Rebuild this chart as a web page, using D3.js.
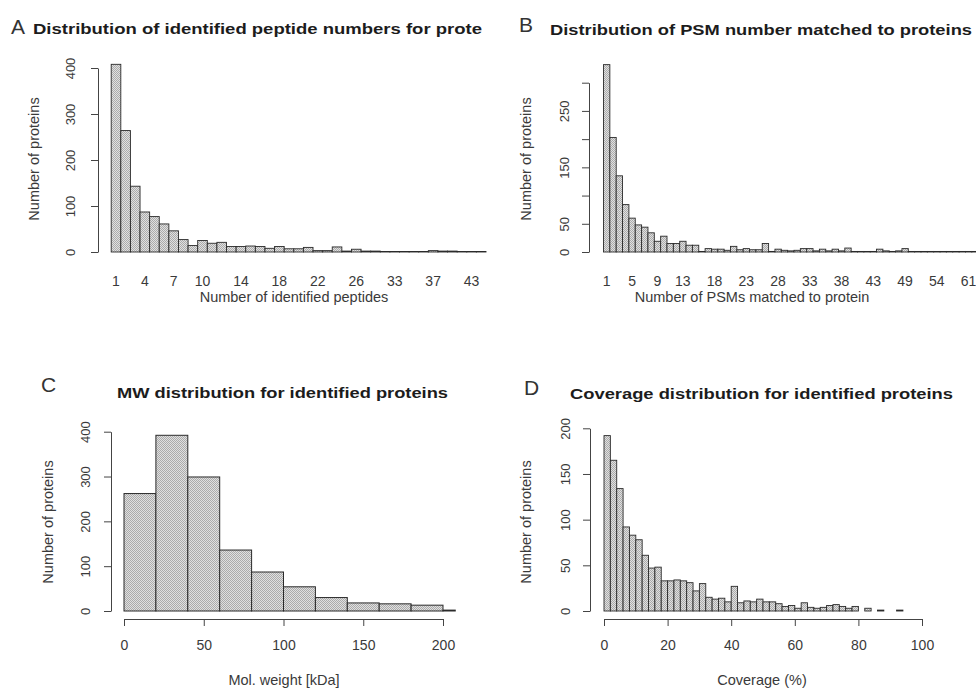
<!DOCTYPE html>
<html>
<head>
<meta charset="utf-8">
<script src="https://cdn.jsdelivr.net/npm/d3@7"></script>
<style>
  html, body { margin: 0; padding: 0; background: #fff; overflow: hidden; }
  svg { display: block; font-family: "Liberation Sans", Arial, sans-serif; }
</style>
</head>
<body>
<div id="chart"></div>
<script>
// Panel A - identified peptides per protein
const pepCats = ['1','2','3','4','5','6','7','8','9','10','11','12','13','14','15','16','17','18','19','20',
                 '21','22','23','24','25','26','27','28','30','33','34','35','36','37','39','40','42','43','47'];
const pepCounts = [408, 264, 143, 87, 77, 61, 46, 27, 14, 25, 19, 21, 12, 12, 13, 12, 8, 12, 7, 7,
                   10, 3, 3, 11, 2, 6, 2, 2, 1, 1, 1, 1, 1, 3, 2, 2, 1, 1, 1];
const pepXLabels = ['1','4','7','10','14','18','22','26','33','37','43'];
const pepYTicks = [0, 100, 200, 300, 400];

// Panel B - PSMs per protein
const psmCats = ['1','2','3','4','5','6','7','8','9','10','11','12','13','14','15','16','17','18','19','20',
                 '21','22','23','24','25','26','27','28','29','30','31','32','33','34','35','36','37','38','39','40',
                 '41','42','43','44','45','46','47','49','50','51','52','53','54','55','57','58','60','61','64'];
const psmCounts = [332, 203, 135, 84, 60, 48, 44, 34, 19, 28, 15, 15, 19, 12, 12, 1, 6, 5, 5, 3,
                   10, 4, 6, 4, 4, 15, 1, 5, 3, 2, 3, 6, 6, 2, 5, 2, 5, 2, 7, 1,
                   1, 1, 1, 5, 2, 1, 2, 6, 1, 1, 1, 1, 1, 1, 1, 1, 1, 1, 1];
const psmXLabels = ['1','5','9','13','18','23','28','33','38','43','49','54','61'];
const psmYTicks = [0, 50, 100, 150, 200, 250, 300];
const psmYLabels = [0, 50, 150, 250];

// Panel C - molecular weight histogram (kDa bins)
const mwBinStart = [0, 20, 40, 60, 80, 100, 120, 140, 160, 180, 200];
const mwBinEnd   = [20, 40, 60, 80, 100, 120, 140, 160, 180, 200, 220];
const mwCounts   = [262, 392, 299, 136, 87, 54, 30, 18, 16, 13, 2];
const mwXTicks = [0, 50, 100, 150, 200];
const mwYTicks = [0, 100, 200, 300, 400];

// Panel D - sequence coverage histogram (2 % bins)
const covBinStart = [0, 2, 4, 6, 8, 10, 12, 14, 16, 18, 20, 22, 24, 26, 28, 30, 32, 34, 36, 38,
                     40, 42, 44, 46, 48, 50, 52, 54, 56, 58, 60, 62, 64, 66, 68, 70, 72, 74, 76, 78,
                     80, 82, 84, 86, 88, 90, 92];
const covCounts = [192, 165, 134, 92, 83, 78, 61, 47, 48, 33, 33, 34, 33, 31, 22, 30, 15, 13, 14, 10,
                   27, 9, 11, 10, 13, 10, 10, 8, 5, 6, 3, 9, 4, 3, 4, 6, 7, 5, 3, 5,
                   0, 3, 0, 1, 0, 0, 1];
const covXTicks = [0, 20, 40, 60, 80, 100];
const covYTicks = [0, 50, 100, 150, 200];

const svg = d3.select('#chart').append('svg')
    .attr('width', 976)
    .attr('height', 688);

// grey halftone-ish fill like the scanned figure
const defs = svg.append('defs');
const pat = defs.append('pattern')
    .attr('id', 'halftone')
    .attr('patternUnits', 'userSpaceOnUse')
    .attr('width', 2).attr('height', 2);
pat.append('rect').attr('width', 2).attr('height', 2).attr('fill', '#e0e0e0');
pat.append('rect').attr('width', 1).attr('height', 1).attr('fill', '#ababab');
pat.append('rect').attr('x', 1).attr('y', 1).attr('width', 1).attr('height', 1).attr('fill', '#ababab');

const TEXT = '#3a3a3a';

function panelText(p) {
    // panel letter
    svg.append('text')
        .attr('x', p.letterX).attr('y', p.letterY)
        .attr('font-size', 21)
        .attr('fill', '#333')
        .attr('font-weight', 300)
        .text(p.letter);
    // bold title, stretched to the scanned width
    svg.append('text')
        .attr('x', p.titleX).attr('y', p.titleY)
        .attr('font-size', 15)
        .attr('font-weight', 'bold')
        .attr('fill', '#1c1c1c')
        .attr('textLength', p.titleW)
        .attr('lengthAdjust', 'spacingAndGlyphs')
        .text(p.title);
    // axis titles
    svg.append('text')
        .attr('x', p.xTitleX).attr('y', p.xTitleY)
        .attr('text-anchor', 'middle')
        .attr('font-size', 14.5)
        .attr('fill', TEXT)
        .text(p.xTitle);
    svg.append('text')
        .attr('transform', `translate(${p.yTitleX},${p.yTitleY}) rotate(-90)`)
        .attr('text-anchor', 'middle')
        .attr('font-size', 14.5)
        .attr('fill', TEXT)
        .text('Number of proteins');
}

function yAxis(y, axisX, ticks, shown, labelOff) {
    const g = svg.append('g')
        .attr('transform', `translate(${axisX},0)`)
        .call(d3.axisLeft(y).tickValues(ticks).tickSize(7).tickSizeOuter(0)
            .tickFormat(d => shown.includes(d) ? d : ''));
    g.select('.domain').attr('stroke', '#444');
    g.selectAll('.tick line').attr('stroke', '#444');
    g.selectAll('.tick text')
        .attr('x', null).attr('dy', null)
        .attr('transform', `translate(${-labelOff},0) rotate(-90)`)
        .attr('text-anchor', 'middle')
        .attr('font-size', 13)
        .attr('font-family', null)
        .attr('fill', TEXT);
}

function xAxis(x, axisY, ticks) {
    const g = svg.append('g')
        .attr('transform', `translate(0,${axisY})`)
        .call(d3.axisBottom(x).tickValues(ticks).tickSize(7).tickSizeOuter(0).tickPadding(14));
    g.select('.domain').attr('stroke', '#444');
    g.selectAll('.tick line').attr('stroke', '#444');
    g.selectAll('.tick text')
        .attr('font-size', 14)
        .attr('font-family', null)
        .attr('fill', TEXT);
}

// ---------- A ----------
{
    const x = d3.scaleBand().domain(pepCats).range([111.2, 486]).paddingInner(0).paddingOuter(0);
    const y = d3.scaleLinear().domain([0, 400]).range([252, 68]);

    svg.append('g').selectAll('rect')
        .data(pepCats.map((c, i) => ({ c, v: pepCounts[i] })))
        .join('rect')
        .attr('x', d => x(d.c))
        .attr('width', x.bandwidth())
        .attr('y', d => y(d.v))
        .attr('height', d => y(0) - y(d.v))
        .attr('fill', 'url(#halftone)')
        .attr('stroke', '#2a2a2a')
        .attr('stroke-width', 0.9);

    yAxis(y, 98, pepYTicks, pepYTicks, 23);

    svg.append('g').selectAll('text')
        .data(pepXLabels)
        .join('text')
        .attr('x', d => x(d) + x.bandwidth() / 2)
        .attr('y', 286)
        .attr('text-anchor', 'middle')
        .attr('font-size', 14)
        .attr('fill', TEXT)
        .text(d => d);

    panelText({
        letter: 'A', letterX: 11, letterY: 34,
        title: 'Distribution of identified peptide numbers for prote', titleX: 33, titleY: 34, titleW: 449,
        xTitle: 'Number of identified peptides', xTitleX: 294, xTitleY: 302,
        yTitleX: 39, yTitleY: 159
    });
}

// ---------- B ----------
{
    const x = d3.scaleBand().domain(psmCats).range([603.5, 603.5 + 6.35 * psmCats.length]).paddingInner(0).paddingOuter(0);
    const y = d3.scaleLinear().domain([0, 300]).range([252, 82.7]);

    svg.append('g').selectAll('rect')
        .data(psmCats.map((c, i) => ({ c, v: psmCounts[i] })))
        .join('rect')
        .attr('x', d => x(d.c))
        .attr('width', x.bandwidth())
        .attr('y', d => y(d.v))
        .attr('height', d => y(0) - y(d.v))
        .attr('fill', 'url(#halftone)')
        .attr('stroke', '#2a2a2a')
        .attr('stroke-width', 0.9);

    yAxis(y, 589, psmYTicks, psmYLabels, 20);

    svg.append('g').selectAll('text')
        .data(psmXLabels)
        .join('text')
        .attr('x', d => x(d) + x.bandwidth() / 2)
        .attr('y', 286)
        .attr('text-anchor', 'middle')
        .attr('font-size', 14)
        .attr('fill', TEXT)
        .text(d => d);

    panelText({
        letter: 'B', letterX: 519, letterY: 32,
        title: 'Distribution of PSM number matched to proteins', titleX: 550, titleY: 35, titleW: 422,
        xTitle: 'Number of PSMs matched to protein', xTitleX: 752, xTitleY: 302,
        yTitleX: 531, yTitleY: 159
    });
}

// ---------- C ----------
{
    const x = d3.scaleLinear().domain([0, 200]).range([124, 443]);
    const y = d3.scaleLinear().domain([0, 400]).range([611, 431.7]);

    // plot region clip (R extends the x range by 4 %)
    defs.append('clipPath').attr('id', 'clipC')
        .append('rect')
        .attr('x', x(-8)).attr('y', 300)
        .attr('width', x(208) - x(-8)).attr('height', 320);

    svg.append('g').attr('clip-path', 'url(#clipC)')
        .selectAll('rect')
        .data(mwCounts.map((v, i) => ({ a: mwBinStart[i], b: mwBinEnd[i], v })))
        .join('rect')
        .attr('x', d => x(d.a))
        .attr('width', d => x(d.b) - x(d.a))
        .attr('y', d => y(d.v))
        .attr('height', d => y(0) - y(d.v))
        .attr('fill', 'url(#halftone)')
        .attr('stroke', '#2a2a2a')
        .attr('stroke-width', 1);

    yAxis(y, 111, mwYTicks, mwYTicks, 21);
    xAxis(x, 619, mwXTicks);

    panelText({
        letter: 'C', letterX: 41, letterY: 392,
        title: 'MW distribution for identified proteins', titleX: 117, titleY: 398, titleW: 331,
        xTitle: 'Mol. weight [kDa]', xTitleX: 284, xTitleY: 685,
        yTitleX: 53, yTitleY: 522
    });
}

// ---------- D ----------
{
    const x = d3.scaleLinear().domain([0, 100]).range([604, 922]);
    const y = d3.scaleLinear().domain([0, 200]).range([611, 428.3]);

    svg.append('g').selectAll('rect')
        .data(covCounts.map((v, i) => ({ a: covBinStart[i], v })))
        .join('rect')
        .attr('x', d => x(d.a))
        .attr('width', d => x(d.a + 2) - x(d.a))
        .attr('y', d => y(d.v))
        .attr('height', d => y(0) - y(d.v))
        .attr('fill', 'url(#halftone)')
        .attr('stroke', '#2a2a2a')
        .attr('stroke-width', 0.9);

    yAxis(y, 590, covYTicks, covYTicks, 20);
    xAxis(x, 619, covXTicks);

    panelText({
        letter: 'D', letterX: 524, letterY: 395,
        title: 'Coverage distribution for identified proteins', titleX: 570, titleY: 399, titleW: 383,
        xTitle: 'Coverage (%)', xTitleX: 762, xTitleY: 685,
        yTitleX: 531, yTitleY: 522
    });
}
</script>
</body>
</html>
